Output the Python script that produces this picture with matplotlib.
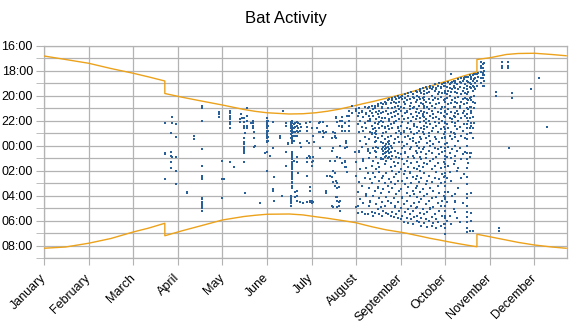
import matplotlib
matplotlib.use("Agg")
import matplotlib.pyplot as plt
from matplotlib.ticker import FixedLocator, FuncFormatter

months = ["January", "February", "March", "April", "May", "June", "July",
          "August", "September", "October", "November", "December"]
month_days = [31, 28, 31, 30, 31, 30, 31, 31, 30, 31, 30, 31]

# sunset / sunrise (clock hours), DST jumps appear as repeated dates
sun_dates = ["01-01", "01-16", "02-01", "02-15", "03-01", "03-12", "03-23", "03-23",
             "04-04", "04-16", "05-01", "05-16", "05-24", "06-01", "06-16", "06-25",
             "07-04", "07-12", "07-20", "08-01", "08-06", "08-12", "08-22", "08-28",
             "09-05", "09-10", "09-16", "09-21", "09-27", "10-03", "10-10", "10-16",
             "10-23", "10-23", "11-01", "11-12", "11-20", "12-01", "12-13", "12-23"]
sunset = [16.84, 17.12, 17.42, 17.84, 18.22, 18.52, 18.84, 19.84,
          20.14, 20.42, 20.76, 21.12, 21.27, 21.38, 21.48, 21.46,
          21.38, 21.26, 21.10, 20.79, 20.65, 20.50, 20.22, 20.05,
          19.82, 19.64, 19.43, 19.25, 19.02, 18.82, 18.57, 18.36,
          18.12, 17.12, 16.98, 16.72, 16.64, 16.62, 16.72, 16.82]
sunrise = [8.22, 8.12, 7.82, 7.44, 6.92, 6.60, 6.22, 7.22,
           6.82, 6.44, 5.96, 5.68, 5.58, 5.50, 5.48, 5.55,
           5.70, 5.82, 5.96, 6.18, 6.33, 6.50, 6.75, 6.86,
           7.02, 7.15, 7.30, 7.43, 7.56, 7.70, 7.85, 7.97,
           8.10, 7.10, 7.30, 7.56, 7.75, 7.96, 8.12, 8.22]

# bat detections: "day: clock times" per month
bats_mar = ["23: 22.2 0.6 0.7 2.7", "27: 23.0 0.5 0.8 1.3 1.8", "28: 21.7 22.2 0.9",
            "31: 22.3 23.3 0.9 2.0 3.1"]
bats_apr = ["7: 3.7 3.8", "12: 23.2 23.5",
            "17: 20.8 21.0 22.0 0.3 1.6 2.4 2.5 2.7 4.2 4.3 4.5 4.7 4.8 5.0 5.2",
            "29: 21.3 21.5 21.7"]
bats_may = ["1: 1.2 2.7 4.2", "2: 2.7", "6: 21.2 21.4 21.6 21.8 21.9 22.1 22.3 22.6 1.3",
            "9: 1.7", "13: 21.9 22.1", "14: 21.5", "15: 21.8",
            "16: 21.8 22.1 22.4 22.6 23.4 23.7 23.9 0.1 0.3 0.4 0.6 1.3",
            "17: 23.0 3.8", "18: 21.0 21.6 22.0 22.4 22.6", "21: 22.2",
            "22: 22.0 22.2 22.4 22.6", "23: 22.9 23.4 0.1", "24: 0.0", "27: 4.6", "31: 0.6"]
bats_jun = ["1: 21.8 22.0 22.1 22.3 22.4 22.6 22.8 22.9 23.1 23.2 23.4 23.6 23.7 0.5 2.0",
            "2: 22.0 22.4 22.8 23.3 23.6", "3: 0.8", "5: 22.1 0.2 3.5 3.6", "6: 2.5 4.4",
            "10: 23.2 23.4", "11: 4.0", "12: 21.2", "14: 22.2 22.4 0.5 1.6", "15: 23.8 23.9",
            "17: 22.1 22.3 22.4 22.6 22.8 23.1 23.4 4.0 4.1 4.3 4.4 4.6 4.8",
            "18: 22.0 22.2 22.4 22.5 22.7 22.8 23.0 23.2 23.3 23.5 23.6 23.8 0.5 0.7 0.8 1.0 1.1 "
            "1.3 1.5 1.6 1.8 1.9 2.1 2.3 2.4 2.6 2.7 2.9 3.0 3.2 3.4",
            "19: 22.3 22.6 22.9 23.2 23.6 1.2", "20: 22.2 22.5 22.9 23.2 3.7 4.1",
            "21: 22.1 22.4 22.8 23.2 0.9 1.3 3.6 4.0 4.4", "22: 22.2 22.6 22.9 2.2",
            "23: 22.3 22.8 23.8 4.5", "24: 22.5 0.1", "25: 4.6", "27: 22.2",
            "28: 22.5 22.8 23.6 1.0 1.3 2.4 4.5", "29: 23.8 0.8",
            "30: 22.1 0.9 1.0 3.3 3.6 4.4 4.5"]
bats_jul = ["1: 22.6 1.3 1.6 4.4 4.6", "2: 23.2 0.9 1.2 4.5", "3: 23.7", "5: 22.6",
            "6: 22.2 22.9", "7: 22.1 22.9 0.2", "9: 22.1 22.8 23.3", "10: 23.0",
            "11: 22.9 3.6 3.8", "12: 22.4 2.4", "14: 1.2 2.4", "15: 23.4 0.4 2.5 4.8",
            "16: 22.9 0.2 2.0 2.9 4.9", "17: 23.0 23.2 23.3 1.2 2.2 3.2",
            "18: 21.7 21.8 23.4 2.8 4.1", "19: 22.1 0.9 3.0 3.4 4.1 4.4 4.9",
            "20: 22.4 3.3 4.5 4.8", "21: 22.0 0.0 1.0 4.4 5.2", "22: 21.7 22.0 22.4 22.5 22.8 1.4",
            "24: 22.2 22.8 0.2 1.2 1.3 1.7", "25: 23.6 23.7 23.8 1.7", "26: 21.6 0.1 2.1",
            "27: 21.2 21.6 22.0 22.4 22.8", "29: 20.8 21.4", "31: 0.5"]
bats_aug = ["1: 21.1 21.2 1.3 2.4 4.9", "2: 21.6 22.3 3.7 4.8 5.4",
            "3: 21.0 21.4 22.9 0.4 0.5 2.9", "4: 22.0 23.6 1.9 4.3",
            "5: 21.2 21.3 22.5 0.1 3.2 5.3", "6: 21.7 22.8 1.1 1.2 4.6",
            "7: 20.9 22.2 23.3 2.6 5.5", "8: 21.4 21.5 22.6 23.9 1.8 3.9 4.0",
            "9: 21.0 22.0 0.3 0.4 2.2 5.5", "10: 20.9 21.6 23.5 1.0 3.4 4.8",
            "11: 21.2 21.9 22.0 22.9 0.6 2.7 4.4 4.5", "12: 20.8 21.4 22.4 23.0 23.1 1.6 3.0 5.3",
            "13: 21.1 21.6 22.7 0.2 1.2 2.2 4.0 5.6",
            "14: 20.8 21.0 22.2 22.6 23.0 23.3 23.7 0.4 2.5 3.6 5.4",
            "15: 21.3 21.9 22.8 23.1 23.6 0.1 0.5 0.9 1.9 4.7",
            "16: 20.7 20.8 21.5 22.3 23.4 0.2 1.4 3.3 3.4 5.1",
            "17: 21.2 21.7 22.1 22.6 1.7 2.1 2.8 4.2 5.5",
            "18: 20.6 21.4 22.0 23.7 1.0 1.1 3.8 4.9",
            "19: 20.9 21.0 21.8 22.4 23.2 0.3 2.6 4.5 5.6",
            "20: 20.7 21.3 22.1 23.0 23.8 0.1 0.4 0.7 1.1 2.4 3.5 5.2",
            "21: 20.5 21.8 22.5 22.6 23.5 0.0 0.3 0.6 0.9 1.5 3.0 4.8",
            "22: 20.6 20.7 21.2 22.9 23.9 0.2 0.5 0.8 1.2 2.2 4.1 5.4",
            "23: 20.4 21.0 21.5 22.4 23.3 23.7 0.1 0.4 1.0 3.2 4.4 5.5",
            "24: 20.3 21.9 22.0 22.7 23.6 23.9 0.3 0.6 0.9 2.7 3.7",
            "25: 20.6 21.4 22.3 23.2 0.0 0.5 1.1 1.7 2.9 4.6 5.6",
            "26: 20.2 20.4 21.0 21.7 22.6 0.2 0.8 2.0 3.4 5.3",
            "27: 20.5 21.3 22.1 22.2 23.8 1.3 2.5 4.2 5.7",
            "28: 20.1 20.9 21.6 23.5 0.4 1.6 3.1 4.8 4.9",
            "29: 20.3 20.6 21.2 22.0 23.0 0.9 2.3 3.9 5.5",
            "30: 20.0 20.8 21.5 22.5 22.6 23.3 0.6 1.4 2.8 4.5 5.8",
            "31: 20.2 20.5 21.1 21.9 22.8 23.7 1.0 2.1 3.6 5.2"]
bats_sep = ["1: 20.1 20.9 21.2 22.4 23.0 23.1 0.7 1.9 3.5 5.0 5.9",
            "2: 20.0 20.3 21.6 22.1 23.7 0.2 1.1 2.8 4.1 4.2 5.6",
            "3: 20.5 21.0 21.9 22.8 22.9 0.0 1.5 2.3 4.7 6.1",
            "4: 19.9 20.2 20.7 21.4 23.3 0.5 0.6 2.0 3.1 5.3",
            "5: 20.4 21.2 21.3 22.6 23.9 1.2 2.6 3.8 4.4 5.8",
            "6: 19.8 20.0 21.8 22.2 23.2 0.9 1.7 3.3 5.1 6.2",
            "7: 20.3 20.8 21.1 22.7 23.5 0.3 2.1 2.2 4.0 5.5",
            "8: 19.7 20.6 21.5 22.0 22.9 0.1 1.4 3.0 4.8 5.9",
            "9: 19.9 20.1 21.0 21.7 23.4 23.6 0.8 2.5 3.6 5.2 6.3",
            "10: 20.2 20.9 22.3 22.4 23.1 1.0 1.8 3.9 4.6 5.7",
            "11: 19.6 20.5 21.3 21.9 23.8 0.4 2.7 3.4 5.0",
            "12: 19.7 20.0 20.4 21.1 21.6 22.5 23.0 0.0 0.6 1.3 1.9 2.4 3.2 4.1 4.9 5.6 6.0",
            "13: 20.1 20.8 21.4 22.8 23.7 0.2 1.6 2.9 4.5 6.1",
            "14: 19.5 19.6 20.3 21.8 22.1 23.3 0.9 2.0 3.7 5.4",
            "15: 19.8 20.6 21.2 22.6 23.5 0.5 1.1 2.6 4.3 5.8 6.4",
            "16: 19.4 20.2 20.7 21.5 21.6 22.9 0.3 1.7 3.5 5.1",
            "17: 19.6 19.9 20.1 20.4 20.8 21.0 21.3 21.7 22.0 22.4 22.7 23.1 0.1 1.4 2.2 4.0 5.5 6.2",
            "18: 19.3 20.5 21.9 22.2 23.4 0.7 1.0 3.1 4.7 5.9",
            "19: 19.5 19.8 20.9 21.4 22.5 23.8 1.5 2.8 3.9 5.3 6.5",
            "20: 19.7 20.3 21.1 22.0 23.0 23.2 0.4 2.4 4.4 6.0",
            "21: 19.2 19.4 20.6 21.6 22.3 23.6 0.0 1.2 3.4 5.0 5.1",
            "22: 19.5 20.0 20.8 21.2 22.8 0.6 1.9 2.9 4.2 5.7 6.4",
            "23: 19.3 20.4 21.5 21.8 22.6 23.9 1.1 3.6 4.9 6.2",
            "24: 19.1 19.6 20.2 21.0 22.1 23.3 0.2 1.6 2.6 5.5",
            "25: 19.4 19.5 20.7 21.7 22.4 23.5 0.9 2.1 4.1 5.9 6.6",
            "26: 19.2 19.9 20.3 21.3 22.9 0.3 1.4 3.2 4.6 6.1",
            "27: 19.0 19.7 20.6 21.9 22.2 23.7 0.7 2.7 3.8 5.2",
            "28: 19.3 19.4 20.1 21.1 21.4 22.7 0.1 1.8 3.0 4.8 6.4",
            "29: 19.1 19.8 20.9 22.0 23.4 0.5 2.3 4.4 5.6",
            "30: 19.0 19.2 20.4 21.6 22.5 23.1 1.3 2.5 4.0 6.3"]
bats_oct = ["1: 19.0 19.2 19.6 19.8 20.3 20.5 20.9 21.2 21.3 21.7 22.1 22.2 22.7 22.9 23.3 23.4 "
            "23.9 0.2 0.4 0.8 1.1 1.5 1.7 2.2 2.4 2.9 3.2 3.7 4.1 4.3 4.8 5.2 5.6 5.8 6.3 6.6 7.1",
            "2: 19.3 19.9 20.2 21.5 22.3 23.8 0.9 2.6 4.5 6.0",
            "3: 18.9 19.6 20.7 21.1 22.6 0.1 1.6 3.7",
            "4: 19.1 19.4 20.0 21.8 23.2 0.6 2.1 5.6",
            "5: 18.3 19.0 19.7 20.6 21.3 22.9 1.0 2.8 6.3",
            "6: 18.9 19.5 20.4 21.9 22.1 23.5 0.3 4.0",
            "7: 18.8 19.2 19.3 20.9 21.6 23.0 1.5 5.1",
            "8: 18.8 19.0 19.4 19.7 20.2 20.5 20.9 21.4 21.7 22.2 22.4 23.1 23.3 0.0 0.8 1.2 "
            "3.9 4.4 4.5 5.3",
            "9: 19.1 19.8 20.6 21.2 22.7 0.4 2.0 5.8",
            "10: 18.7 19.5 20.1 21.5 22.0 23.6 1.8 3.4",
            "11: 18.9 19.3 20.8 21.0 22.5 0.2 6.1",
            "12: 18.6 19.0 19.9 20.5 21.8 23.2 1.1 2.6",
            "13: 18.8 19.6 20.3 21.4 22.8 0.7 4.6",
            "14: 18.6 18.7 19.4 20.7 21.2 22.3 2.3",
            "15: 18.5 19.1 19.8 20.2 21.6 23.4 0.5",
            "16: 18.5 18.8 19.2 19.5 19.9 20.3 20.6 21.0 21.5 21.8 22.3 22.6 23.1 23.5 0.0 0.6 "
            "1.1 1.8 2.5 3.1 3.9 4.2 4.8 5.3 5.7 6.1 6.6 6.9",
            "17: 18.5 18.9 19.7 20.4 21.1 22.0 1.4",
            "18: 18.4 19.0 19.3 20.2 20.9 21.8 22.6 23.0 0.6 0.9 6.8",
            "19: 18.5 18.7 19.1 19.4 20.1 20.4 20.9 21.2 21.4 22.2 22.4 23.0 0.6 3.8 5.4 6.0",
            "20: 18.4 18.8 19.2 19.6 20.5 21.7 22.6 23.4 6.8",
            "21: 18.3 18.7 19.3 20.0 21.0 22.2", "22: 18.3 18.6 19.0 19.5 20.6",
            "23: 18.3 18.8 19.2", "24: 18.2 18.5",
            "26: 17.3 17.6 17.8 18.1 18.6 19.0", "27: 17.5 17.8 18.2 18.4 18.6 19.2",
            "28: 17.4 18.0 18.4 18.8 19.2"]
bats_nov = ["5: 19.7 20.0", "7: 6.6 6.8", "9: 17.3 17.6 17.8", "13: 17.3 17.6 17.8",
            "14: 0.2", "16: 19.8 20.2", "29: 19.5"]
bats_dec = ["4: 18.6", "10: 22.5"]


def date_x(month_idx, day):
    return month_idx + (day - 1) / month_days[month_idx]


def night_hour(clock):
    return clock + 24 if clock < 12 else clock


bat_x, bat_y = [], []
for m_idx, rows in [(2, bats_mar), (3, bats_apr), (4, bats_may), (5, bats_jun),
                    (6, bats_jul), (7, bats_aug), (8, bats_sep), (9, bats_oct),
                    (10, bats_nov), (11, bats_dec)]:
    for row in rows:
        d, ts = row.split(":")
        for t in ts.split():
            bat_x.append(date_x(m_idx, int(d)))
            bat_y.append(night_hour(float(t)))

sun_x = [date_x(int(s[:2]) - 1, int(s[3:])) for s in sun_dates]
set_y = [night_hour(v) for v in sunset]
rise_y = [night_hour(v) for v in sunrise]

plt.rcParams['font.family'] = ['Liberation Sans', 'DejaVu Sans']
fig = plt.figure(figsize=(5.71, 3.26), dpi=100)
ax = fig.add_axes([44 / 571, 1 - 258 / 326, 523 / 571, 212.5 / 326])

grid_c = '#b3b3b3'
ax.plot(sun_x, set_y, color='#eca21b', lw=1.0, zorder=3)
ax.plot(sun_x, rise_y, color='#eca21b', lw=1.0, zorder=3)
ax.scatter(bat_x, bat_y, s=2.6, marker='s', color='#2a6099', linewidths=0, zorder=4)

ax.set_xlim(0, 11.73)
ax.set_ylim(33, 16)
ax.xaxis.set_major_locator(FixedLocator(range(12)))
ax.set_xticklabels(months, rotation=45, ha='right', va='center', rotation_mode='anchor',
                   fontsize=9)
ax.yaxis.set_major_locator(FixedLocator(list(range(16, 33, 2))))
ax.yaxis.set_minor_locator(FixedLocator(list(range(17, 34, 2))))
ax.yaxis.set_major_formatter(FuncFormatter(lambda v, p: f"{int(v) % 24:02d}:00"))
ax.tick_params(axis='y', which='both', length=6, color=grid_c, labelsize=9, pad=2)
ax.tick_params(axis='x', which='major', length=5, color=grid_c, pad=8)
ax.grid(True, which='both', color=grid_c, lw=0.9, zorder=0)
for sp in ax.spines.values():
    sp.set_color(grid_c)
    sp.set_linewidth(0.9)

fig.text(286 / 571, 1 - 18 / 326, "Bat Activity", ha='center', va='center', fontsize=12)
fig.savefig("out.png", dpi=100)
